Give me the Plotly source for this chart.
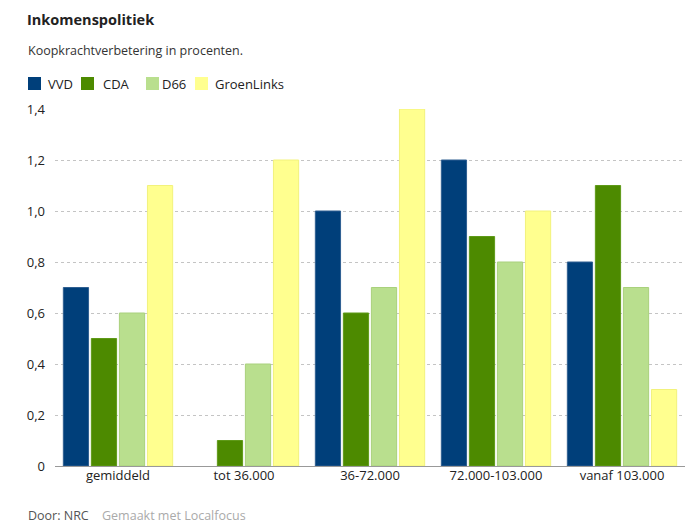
import plotly.graph_objects as go

categories = ["gemiddeld", "tot 36.000", "36-72.000", "72.000-103.000", "vanaf 103.000"]
parties = ["VVD", "CDA", "D66", "GroenLinks"]
vvd = [0.7, 0.0, 1.0, 1.2, 0.8]
cda = [0.5, 0.1, 0.6, 0.9, 1.1]
d66 = [0.6, 0.4, 0.7, 0.8, 0.7]
groenlinks = [1.1, 1.2, 1.4, 1.0, 0.3]
tick_vals = [0, 0.2, 0.4, 0.6, 0.8, 1.0, 1.2, 1.4]
tick_text = ["0", "0,2", "0,4", "0,6", "0,8", "1,0", "1,2", "1,4"]

colors = ["#003f7a", "#4d8a00", "#b9df8e", "#ffff8f"]
lines = ["#2f5f91", "#5f9a18", "#a9d17c", "#f2f27c"]
series = [vvd, cda, d66, groenlinks]

FONT = "'Open Sans', Lato, sans-serif"

# layout geometry (pixels)
W, H = 700, 525
L, R, T, B = 55, 15, 109, 59
PW, PH = W - L - R, H - T - B


def px(x):
    return (x - L) / PW


def py(y):
    return (H - B - y) / PH


fig = go.Figure()
for name, vals, c, lc in zip(parties, series, colors, lines):
    fig.add_trace(go.Bar(
        x=categories, y=vals, name=name,
        marker=dict(color=c, line=dict(color=lc, width=[0 if v == 0 else 1 for v in vals])),
        hoverinfo="x+y+name", showlegend=False,
    ))

# custom legend (swatch + label) to match the reference spacing
legend_sw_x = [28, 81, 146, 195]
legend_tx_x = [46, 101, 160, 213]
shapes = []
annotations = []
for name, c, sx, tx in zip(parties, colors, legend_sw_x, legend_tx_x):
    shapes.append(dict(type="rect", xref="paper", yref="paper",
                       x0=px(sx), x1=px(sx + 13), y0=py(90), y1=py(77),
                       fillcolor=c, line=dict(width=0)))
    annotations.append(dict(text=name, xref="paper", yref="paper", x=px(tx), xanchor="left",
                            y=py(84), yanchor="middle", showarrow=False,
                            font=dict(size=13, color="#222")))

annotations += [
    dict(text="Koopkrachtverbetering in procenten.", xref="paper", yref="paper",
         x=px(26), xanchor="left", y=py(51), yanchor="middle",
         showarrow=False, font=dict(size=12.5, color="#333")),
    dict(text="Door: NRC", xref="paper", yref="paper",
         x=px(26), xanchor="left", y=py(515), yanchor="middle",
         showarrow=False, font=dict(size=12.5, color="#555")),
    dict(text="Gemaakt met Localfocus", xref="paper", yref="paper",
         x=px(100), xanchor="left", y=py(515), yanchor="middle",
         showarrow=False, font=dict(size=12.5, color="#aaa")),
]

fig.update_layout(
    width=W, height=H,
    paper_bgcolor="white", plot_bgcolor="white",
    margin=dict(l=L, r=R, t=T, b=B, autoexpand=False),
    barmode="group", bargap=0.11, bargroupgap=0.1,
    font=dict(family=FONT, size=13, color="#222"),
    title=dict(text="<b>Inkomenspolitiek</b>", x=27/W, xref="container", xanchor="left",
               y=1-20/H, yref="container", yanchor="middle",
               font=dict(size=14.5, color="#222", family=FONT)),
    showlegend=False,
    shapes=shapes,
    annotations=annotations,
)
fig.update_xaxes(showgrid=False, showline=False, ticks="", tickfont=dict(size=13, color="#222"))
fig.update_yaxes(range=[0, 1.4], tickvals=tick_vals, ticktext=tick_text,
                 showgrid=True, gridcolor="#c4c4c4", griddash="dot", gridwidth=1,
                 zeroline=True, zerolinecolor="#999999", zerolinewidth=1,
                 showline=False, ticks="", ticklabelstandoff=9,
                 tickfont=dict(size=13, color="#222"))

fig.write_html("out.html", config={"displayModeBar": False},
               post_script="document.body.style.margin='0';")
